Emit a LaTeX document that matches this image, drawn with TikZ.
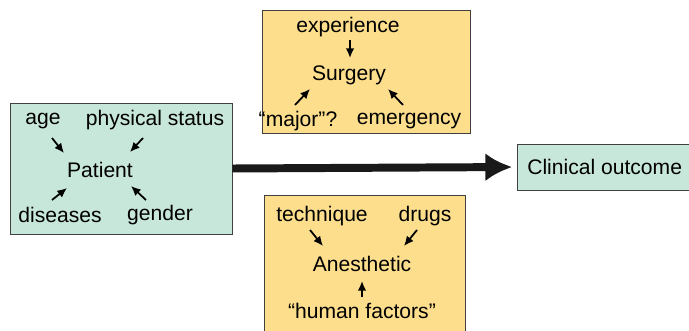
\documentclass[tikz,border=0pt]{standalone}
\usepackage{fontspec}
\setmainfont{Liberation Sans}
\usepackage{tikz}
\usetikzlibrary{arrows.meta}
\definecolor{boxgreen}{RGB}{200,231,219}
\definecolor{boxyellow}{RGB}{253,222,140}

\begin{document}
\begin{tikzpicture}[x=0.03cm, y=-0.03cm, every node/.style={font=\fontsize{18}{21}\selectfont, inner sep=1pt}, >={Latex[length=2.9mm, width=2.6mm]}, bx/.style={draw=black!75, line width=0.6pt, inner sep=0pt}, ar/.style={->, line width=1.5pt}]
	\useasboundingbox (0,0) rectangle (689,330);
	% boxes
	\node[bx, fill=boxgreen, minimum width=6.66cm, minimum height=3.93cm] (pbox) at (121,168.5) {};
	\node[bx, fill=boxyellow, minimum width=6.24cm, minimum height=3.69cm] (sbox) at (366,71.5) {};
	\node[bx, fill=boxyellow, minimum width=6.03cm, minimum height=4.2cm] (abox) at (364.5,265) {};
	\node[bx, fill=boxgreen, anchor=west, minimum height=1.38cm, inner xsep=8.5pt] (outcome) at (517,167) {Clinical outcome};
	% patient
	\node (patient) at (100,170) {Patient};
	\node (age) at (43,121) {age};
	\node (phys) at (155,120) {physical status};
	\node (diseases) at (60,215) {diseases};
	\node (gender) at (160,215) {gender};
	\draw[ar] ([shift={(9,17)}]age.center) -- ([shift={(-36,-17)}]patient.center);
	\draw[ar] ([shift={(-12,18)}]phys.center) -- ([shift={(30,-18)}]patient.center);
	\draw[ar] ([shift={(-8,-15)}]diseases.center) -- ([shift={(-33,18)}]patient.center);
	\draw[ar] ([shift={(-14,-15)}]gender.center) -- ([shift={(31,16)}]patient.center);
	% surgery
	\node (surgery) at (349,75) {Surgery};
	\node (experience) at (348,27) {experience};
	\node (major) at (298,121) {``major''?};
	\node (emergency) at (409,121) {emergency};
	\draw[ar] ([shift={(2,13)}]experience.center) -- ([shift={(1,-17)}]surgery.center);
	\draw[ar] ([shift={(-3,-16)}]major.center) -- ([shift={(-39,14)}]surgery.center);
	\draw[ar] ([shift={(-6,-16)}]emergency.center) -- ([shift={(39,14)}]surgery.center);
	% anesthetic
	\node (anesthetic) at (362,264) {Anesthetic};
	\node (technique) at (322,216) {technique};
	\node (drugs) at (425,216) {drugs};
	\node (human) at (362,311) {``human factors''};
	\draw[ar] ([shift={(-12,14)}]technique.center) -- ([shift={(-39,-18)}]anesthetic.center);
	\draw[ar] ([shift={(-8,14)}]drugs.center) -- ([shift={(42,-18)}]anesthetic.center);
	\draw[ar] ([shift={(0,-14)}]human.center) -- ([shift={(0,17)}]anesthetic.center);
	% main arrow
	\draw[-{Latex[length=23pt, width=24pt]}, line width=6.8pt, black!90, shorten >=4pt] (pbox.east) -- (outcome.west);
\end{tikzpicture}
\end{document}
